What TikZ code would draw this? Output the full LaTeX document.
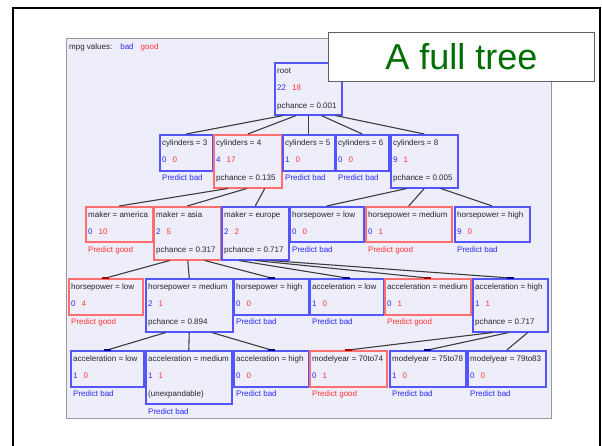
\documentclass[tikz,border=0pt]{standalone}
\usepackage{fontspec}
\setmainfont{Liberation Sans}
\definecolor{bad}{RGB}{40,40,255}
\definecolor{good}{RGB}{255,50,50}
\definecolor{bbord}{RGB}{85,85,255}
\definecolor{rbord}{RGB}{255,110,110}
\definecolor{panel}{RGB}{238,238,250}
\definecolor{linkc}{RGB}{60,60,60}
\definecolor{titlec}{RGB}{0,110,0}
\definecolor{markb}{RGB}{0,0,140}
\definecolor{markr}{RGB}{170,0,0}
\tikzset{
  bbox/.style={draw=bbord, line width=1.5pt, inner sep=0pt},
  rbox/.style={draw=rbord, line width=1.5pt, inner sep=0pt},
  lbl/.style={inner sep=0pt, font=\fontsize{8}{9}\selectfont, text=black!85, anchor=mid west},
  link/.style={draw=linkc, line width=1.1pt},
  tick/.style={line width=2pt},
}
\newcommand\tb[9]{%
  \node[#6, anchor=north west, minimum width={(#4-#2)*1pt}, minimum height={(#5-#3)*1pt}] (#1) at (#2,#3) {};
  \node[lbl] (#1-t) at ([shift={(3,8.5)}]#1.north west) {#7};
  \node[lbl] (#1-n) at ([shift={(3,26)}]#1.north west) {\textcolor{bad}{#8}\hspace{6pt}\textcolor{good}{#9}};
}
\newcommand\pc[2]{\node[lbl] (#1-c) at ([shift={(3,44)}]#1.north west) {#2};}
\newcommand\pr[4]{\node[lbl, text=#2] (#1-p) at ([shift={(3,#3)}]#1.north west) {#4};}
\newcommand\mk[2]{\draw[tick, #2] ([xshift=-3.5]#1.north) -- ([xshift=3.5]#1.north);}
\begin{document}
\begin{tikzpicture}[x=1pt, y=-1pt]
\useasboundingbox (0,0) rectangle (602,445);
\fill[white] (0,0) rectangle (602,445);
\draw[line width=2pt, black] (13,447) -- (13,8) -- (600,8) -- (600,447);
\draw[draw=gray!80, fill=panel, line width=0.8pt] (66.5,38) rectangle (551,418);
\node[lbl] (legend) at (69,47) {mpg values:\hspace{8pt}\textcolor{bad}{bad}\hspace{7pt}\textcolor{good}{good}};
% level 0
\tb{root}{274}{62}{341}{114}{bbox}{root}{22}{18}
\pc{root}{pchance = 0.001}
% level 1
\tb{c3}{159}{134}{212}{170}{bbox}{cylinders = 3}{0}{0}
\pr{c3}{bad}{44}{Predict bad}
\tb{c4}{213}{134}{281}{187}{rbox}{cylinders = 4}{4}{17}
\pc{c4}{pchance = 0.135}
\tb{c5}{282}{134}{334}{170}{bbox}{cylinders = 5}{1}{0}
\pr{c5}{bad}{44}{Predict bad}
\tb{c6}{335}{134}{388}{170}{bbox}{cylinders = 6}{0}{0}
\pr{c6}{bad}{44}{Predict bad}
\tb{c8}{390}{134}{457}{187}{bbox}{cylinders = 8}{9}{1}
\pc{c8}{pchance = 0.005}
% level 2
\tb{ma}{85}{206}{152}{241}{rbox}{maker = america}{0}{10}
\pr{ma}{good}{44}{Predict good}
\tb{mas}{153}{206}{220}{259}{rbox}{maker = asia}{2}{5}
\pc{mas}{pchance = 0.317}
\tb{me}{221}{206}{288}{259}{bbox}{maker = europe}{2}{2}
\pc{me}{pchance = 0.717}
\tb{hl}{289}{206}{363}{241}{bbox}{horsepower = low}{0}{0}
\pr{hl}{bad}{44}{Predict bad}
\tb{hm}{365}{206}{451}{241}{rbox}{horsepower = medium}{0}{1}
\pr{hm}{good}{44}{Predict good}
\tb{hh}{454}{206}{529}{241}{bbox}{horsepower = high}{9}{0}
\pr{hh}{bad}{44}{Predict bad}
% level 3
\tb{ahl}{68}{278}{142}{314}{rbox}{horsepower = low}{0}{4}
\pr{ahl}{good}{44}{Predict good}
\tb{ahm}{145}{278}{232}{331}{bbox}{horsepower = medium}{2}{1}
\pc{ahm}{pchance = 0.894}
\tb{ahh}{233}{278}{308}{314}{bbox}{horsepower = high}{0}{0}
\pr{ahh}{bad}{44}{Predict bad}
\tb{eal}{309}{278}{383}{314}{bbox}{acceleration = low}{1}{0}
\pr{eal}{bad}{44}{Predict bad}
\tb{eam}{384}{278}{470}{314}{rbox}{acceleration = medium}{0}{1}
\pr{eam}{good}{44}{Predict good}
\tb{eah}{472}{278}{547}{331}{bbox}{acceleration = high}{1}{1}
\pc{eah}{pchance = 0.717}
% level 4
\tb{xal}{70}{350}{143}{386}{bbox}{acceleration = low}{1}{0}
\pr{xal}{bad}{44}{Predict bad}
\tb{xam}{145}{350}{231}{403}{bbox}{acceleration = medium}{1}{1}
\pc{xam}{(unexpandable)}
\pr{xam}{bad}{62}{Predict bad}
\tb{xah}{233}{350}{308}{386}{bbox}{acceleration = high}{0}{0}
\pr{xah}{bad}{44}{Predict bad}
\tb{y70}{309}{350}{386}{386}{rbox}{modelyear = 70to74}{0}{1}
\pr{y70}{good}{44}{Predict good}
\tb{y75}{389}{350}{465}{386}{bbox}{modelyear = 75to78}{1}{0}
\pr{y75}{bad}{44}{Predict bad}
\tb{y79}{467}{350}{545}{386}{bbox}{modelyear = 79to83}{0}{0}
\pr{y79}{bad}{44}{Predict bad}
% links
\draw[link] ([xshift=-25]root.south) -- (c3.north);
\draw[link] ([xshift=-12]root.south) -- (c4.north);
\draw[link] ([xshift=0.5]root.south) -- (c5.north);
\draw[link] ([xshift=13]root.south) -- (c6.north);
\draw[link] ([xshift=27]root.south) -- (c8.north);
\draw[link] ([xshift=-20]c4.south) -- (ma.north);
\draw[link] ([xshift=-1]c4.south) -- (mas.north);
\draw[link] ([xshift=17]c4.south) -- (me.north);
\draw[link] ([xshift=-17.5]c8.south) -- (hl.north);
\draw[link] ([xshift=0]c8.south) -- (hm.north);
\draw[link] ([xshift=16.5]c8.south) -- (hh.north);
\draw[link] ([xshift=-17.5]mas.south) -- (ahl.north);
\draw[link] ([xshift=0.5]mas.south) -- (ahm.north);
\draw[link] ([xshift=17.5]mas.south) -- (ahh.north);
\draw[link] ([xshift=-16.5]me.south) -- (eal.north);
\draw[link] ([xshift=0]me.south) -- (eam.north);
\draw[link] ([xshift=15]me.south) -- (eah.north);
\draw[link] ([xshift=-23.5]ahm.south) -- (xal.north);
\draw[link] ([xshift=0]ahm.south) -- (xam.north);
\draw[link] ([xshift=22.5]ahm.south) -- (xah.north);
\draw[link] ([xshift=-17.5]eah.south) -- (y70.north);
\draw[link] ([xshift=-1.5]eah.south) -- (y75.north);
\draw[link] ([xshift=17.5]eah.south) -- (y79.north);
% end ticks
\mk{ahl}{markr}
\mk{ahh}{markb}
\mk{eal}{markb}
\mk{eam}{markr}
\mk{eah}{markb}
\mk{xal}{markb}
\mk{xah}{markb}
\mk{y70}{markr}
\mk{y75}{markb}
% title
\node[draw=gray!75!black, fill=white, line width=0.8pt, inner sep=0pt, anchor=north west,
      minimum width=266pt, minimum height=49pt, text=titlec,
      font=\fontsize{36}{40}\selectfont] (title) at (328,32) {A full tree};
\end{tikzpicture}
\end{document}
